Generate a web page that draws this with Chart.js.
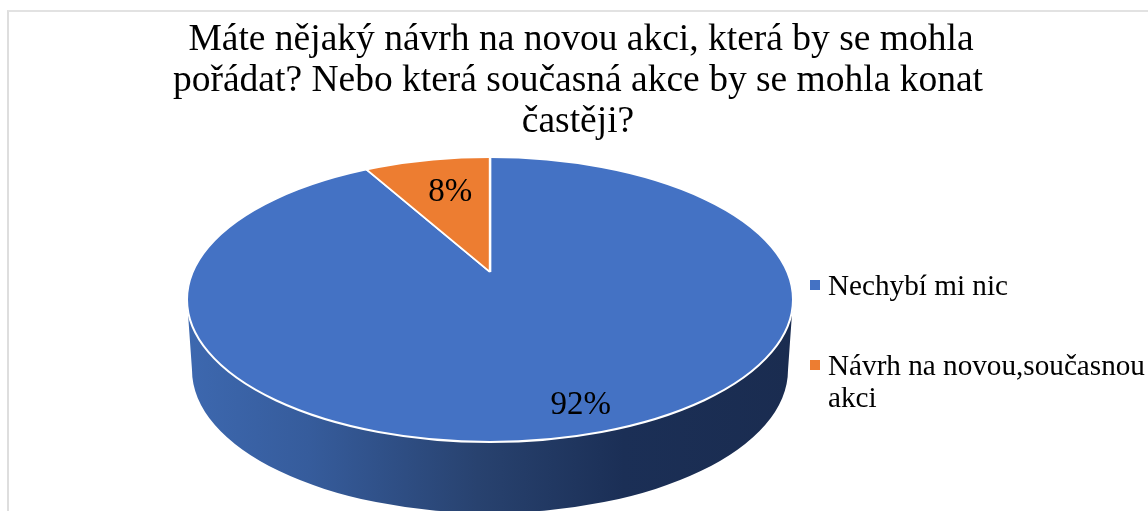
<!DOCTYPE html>
<html>
<head>
<meta charset="utf-8">
<script src="https://cdn.jsdelivr.net/npm/chart.js@4"></script>
<style>
  html, body { margin: 0; padding: 0; background: #fff; }
  #wrap { position: relative; width: 1148px; height: 511px; overflow: hidden; font-family: "Liberation Serif", serif; color: #000; }
  #frame { position: absolute; left: 7px; top: 10px; width: 1200px; height: 600px; border-left: 2px solid #dedede; border-top: 2px solid #e2e2e2; }
  canvas { position: absolute; left: 0; top: 0; }
  .tline { position: absolute; width: 1000px; text-align: center; font-size: 37.5px; line-height: 40px; white-space: nowrap; }
  .item { position: absolute; left: 809px; white-space: nowrap; padding-left: 19px; font-size: 29.2px; line-height: 32px; }
  .box { position: absolute; left: 1px; top: 11px; width: 10px; height: 10px; }
</style>
</head>
<body>
<div id="wrap">
  <div id="frame"></div>
  <canvas id="pie" width="1148" height="511"></canvas>
  <div id="title"></div>
  <div id="legend"></div>
</div>
<script>
const titleLines = [
  "Máte nějaký návrh na novou akci, která by se mohla",
  "pořádat? Nebo která současná akce by se mohla konat",
  "častěji?"
];
const categories = ["Nechybí mi nic", "Návrh na novou,současnou akci"];
const legendLines = [["Nechybí mi nic"], ["Návrh na novou,současnou", "akci"]];
const values = [92, 8];
const colors = ["#4472C4", "#ED7D31"];

// the disc seen at an angle: ellipse on top, wedge tip sits above its centre
const tipX = 490, tipY = 272, radius = 200, stretchX = 2, stretchY = 0.912;
const top3d = { x: 490, y: 299.5, rx: 303, ry: 142.5 };
const bottom3d = { x: 490, y: 370, rx: 298, ry: 143 };

const labelShift = [[41, 45], [10, 8]];
const titleCentres = [581, 578, 578];
const titleTops = [18, 59, 100];
const legendTops = [269, 349];

document.getElementById("title").innerHTML = titleLines.map((line, i) =>
  `<div class="tline" style="left:${titleCentres[i] - 500}px;top:${titleTops[i]}px">${line}</div>`
).join("");

document.getElementById("legend").innerHTML = legendLines.map((lines, i) =>
  `<div class="item" style="top:${legendTops[i]}px"><span class="box" style="background:${colors[i]}"></span>${lines.join("<br>")}</div>`
).join("");

const pie3d = {
  id: "pie3d",
  beforeDatasetsDraw(chart) {
    const ctx = chart.ctx;
    // side wall
    const grad = ctx.createLinearGradient(187, 0, 793, 0);
    grad.addColorStop(0, "#3D68AF");
    grad.addColorStop(0.2, "#365C9C");
    grad.addColorStop(0.48, "#28426F");
    grad.addColorStop(0.72, "#1B2F56");
    grad.addColorStop(1, "#1A2C50");
    ctx.save();
    ctx.beginPath();
    ctx.ellipse(top3d.x, top3d.y, top3d.rx, top3d.ry, 0, Math.PI, 0, true);
    ctx.lineTo(bottom3d.x + bottom3d.rx, bottom3d.y);
    ctx.ellipse(bottom3d.x, bottom3d.y, bottom3d.rx, bottom3d.ry, 0, 0, Math.PI);
    ctx.closePath();
    ctx.fillStyle = grad;
    ctx.fill();
    ctx.restore();

    // top face: slices stretched around the tip, cut by the ellipse
    ctx.save();
    ctx.beginPath();
    ctx.ellipse(top3d.x, top3d.y, top3d.rx, top3d.ry, 0, 0, Math.PI * 2);
    ctx.clip();
    ctx.translate(tipX, tipY);
    ctx.scale(stretchX, stretchY);
    ctx.translate(-tipX, -tipY);
  },
  afterDatasetsDraw(chart) {
    const ctx = chart.ctx;
    ctx.restore();

    ctx.beginPath();
    ctx.ellipse(top3d.x, top3d.y, top3d.rx, top3d.ry, 0, 0, Math.PI * 2);
    ctx.strokeStyle = "#fff";
    ctx.lineWidth = 2;
    ctx.stroke();

    // percentage labels
    ctx.save();
    ctx.font = '33px "Liberation Serif"';
    ctx.fillStyle = "#000";
    ctx.textAlign = "center";
    ctx.textBaseline = "middle";
    const total = values.reduce((a, b) => a + b, 0);
    chart.getDatasetMeta(0).data.forEach((arc, i) => {
      const mid = (arc.startAngle + arc.endAngle) / 2;
      const x = arc.x + Math.cos(mid) * 200 + labelShift[i][0];
      const y = arc.y + Math.sin(mid) * 91 + labelShift[i][1];
      ctx.fillText(Math.round(values[i] / total * 100) + "%", x, y);
    });
    ctx.restore();
  }
};

new Chart(document.getElementById("pie"), {
  type: "pie",
  data: {
    labels: categories,
    datasets: [{
      data: values,
      backgroundColor: colors,
      borderColor: "#fff",
      borderWidth: 1.2
    }]
  },
  options: {
    responsive: false,
    animation: false,
    layout: {
      padding: {
        left: tipX - radius,
        right: 1148 - tipX - radius,
        top: tipY - radius,
        bottom: 511 - tipY - radius
      }
    },
    plugins: {
      legend: { display: false },
      title: { display: false },
      tooltip: { enabled: false }
    }
  },
  plugins: [pie3d]
});
</script>
</body>
</html>
